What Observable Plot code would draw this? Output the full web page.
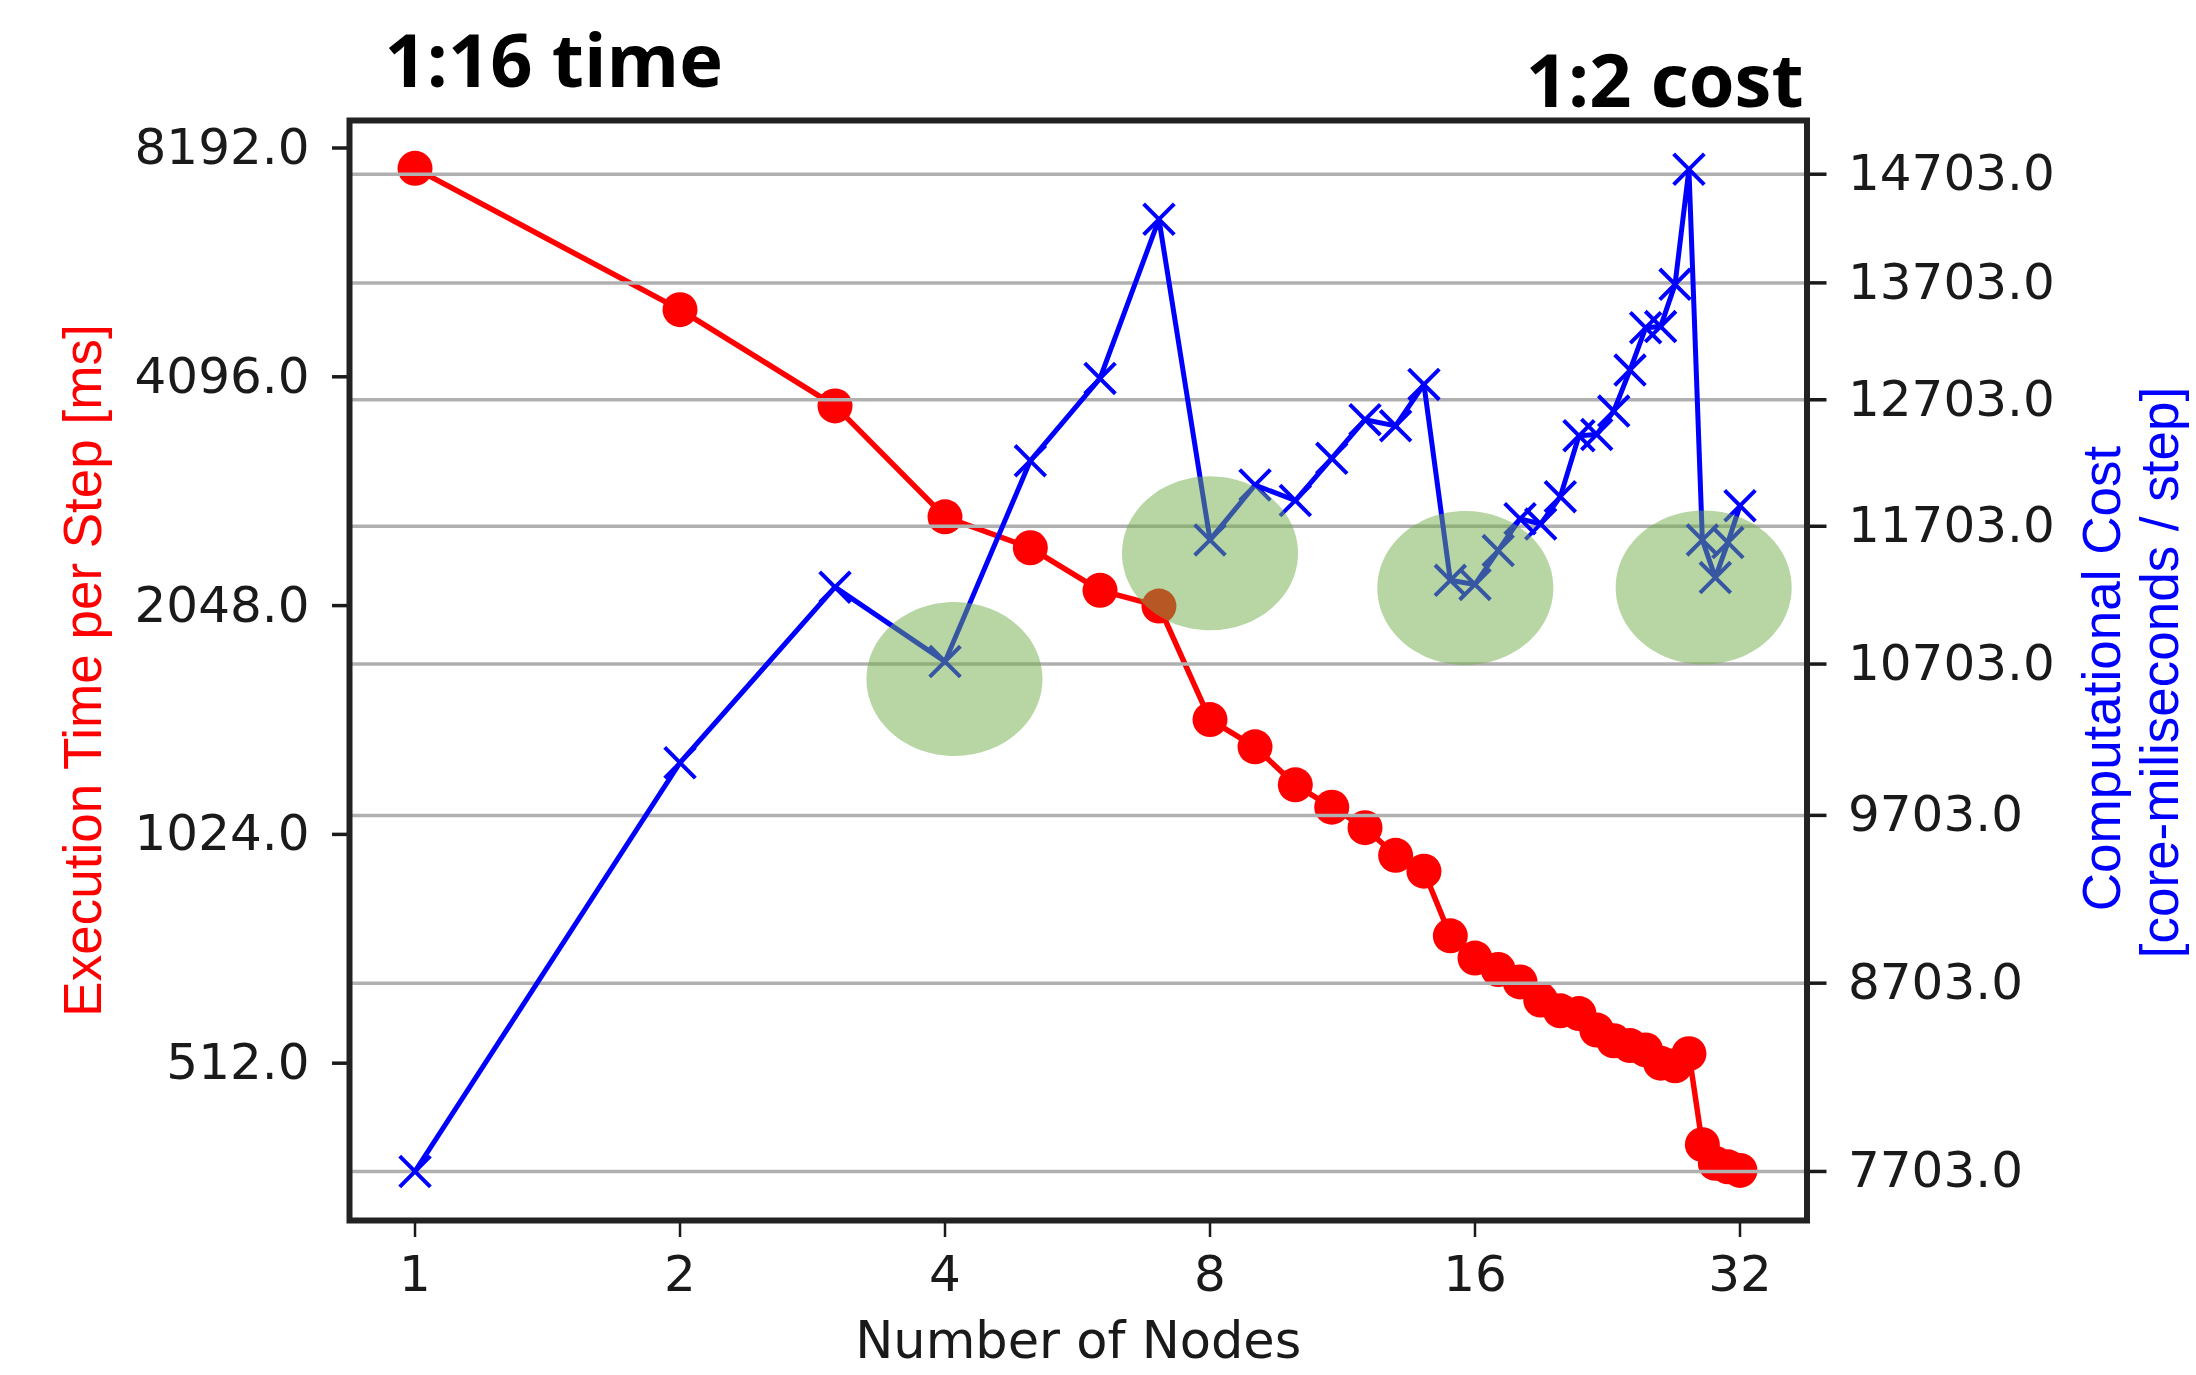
<!DOCTYPE html>
<html>
<head>
<meta charset="utf-8">
<script src="https://cdn.jsdelivr.net/npm/d3@7"></script>
<script src="https://cdn.jsdelivr.net/npm/@observablehq/plot@0.6"></script>
<style>
  html, body { margin: 0; padding: 0; background: #ffffff; }
  #chart { position: relative; width: 2196px; height: 1375px; }
  #chart svg { position: absolute; left: 0; top: 0; }
</style>
</head>
<body>
<div id="chart"></div>
<script>
// ---- data ----
const nodes = [1, 2, 3, 4, 5, 6, 7, 8, 9, 10, 11, 12, 13, 14, 15, 16,
               17, 18, 19, 20, 21, 22, 23, 24, 25, 26, 27, 28, 29, 30, 31, 32];
const execTime = [7703, 5020, 3750, 2680, 2440, 2145, 2045, 1450, 1335, 1190, 1112, 1045, 961, 916, 753, 704,
                  680, 655, 620, 600, 595, 566, 548, 540, 533, 512, 508, 527, 400, 378, 374, 370];
const compCost = [7703, 10040, 11250, 10720, 12210, 12880, 14280, 11600, 12020, 11900, 12230, 12540, 12490, 12830, 11300, 11270,
                  11520, 11760, 11720, 11930, 12410, 12420, 12610, 12950, 13310, 13320, 13690, 14750, 11600, 11320, 11580, 11860];
const xTicks = [1, 2, 4, 8, 16, 32];
const timeTicks = [512, 1024, 2048, 4096, 8192];
const costTicks = [7703, 8703, 9703, 10703, 11703, 12703, 13703, 14703];
// highlighted regions (centre in nodes / cost)
const highlightNodes = [4.1, 8.0, 15.6, 29.1];
const highlightCost = [10600, 11500, 11244, 11248];

const rows = nodes.map((n, i) => ({n, time: execTime[i], cost: compCost[i]}));
const highlights = highlightNodes.map((n, i) => ({n, cost: highlightCost[i]}));

// ---- layout ----
const W = 2196, H = 1375;
const fLeft = 349, fRight = 1806.5, fTop = 120, fBottom = 1220;
const common = {
  width: W, height: H,
  marginLeft: fLeft, marginRight: W - fRight, marginTop: fTop, marginBottom: H - fBottom,
  style: {background: "transparent", fontFamily: "'DejaVu Sans', sans-serif", fontSize: "50px", color: "#1a1a1a"},
  x: {type: "log", base: 2, domain: [0.8425, 38.13]}
};

// ellipse symbol for the highlight marks
const ellipse = {
  draw(ctx, size) {
    const ry = Math.sqrt(size / Math.PI), rx = ry * 88 / 77, k = 0.5522847498;
    ctx.moveTo(rx, 0);
    ctx.bezierCurveTo(rx, ry * k, rx * k, ry, 0, ry);
    ctx.bezierCurveTo(-rx * k, ry, -rx, ry * k, -rx, 0);
    ctx.bezierCurveTo(-rx, -ry * k, -rx * k, -ry, 0, -ry);
    ctx.bezierCurveTo(rx * k, -ry, rx, -ry * k, rx, 0);
    ctx.closePath();
  }
};

const labelFont = "'Liberation Sans', Arial, sans-serif";

// bottom layer: execution time (left axis), x axis
const p1 = Plot.plot({
  ...common,
  y: {type: "log", base: 2, domain: [317.9, 8904]},
  marks: [
    Plot.axisX({ticks: xTicks, tickSize: 17, tickPadding: 18, tickFormat: d => String(d), strokeWidth: 2.5, label: null}),
    Plot.axisY({ticks: timeTicks, anchor: "left", tickSize: 17, tickPadding: 23, tickFormat: d => d.toFixed(1), strokeWidth: 3.5, label: null}),
    Plot.line(rows, {x: "n", y: "time", stroke: "#ff0000", strokeWidth: 5.5}),
    Plot.dot(rows, {x: "n", y: "time", r: 17.5, fill: "#ff0000"}),
    Plot.text(["Execution Time per Step [ms]"], {text: d => d, frameAnchor: "left", dx: 100 - fLeft, rotate: -90,
      textAnchor: "middle", lineAnchor: "bottom", fill: "#ff0000", fontFamily: labelFont, fontSize: 53}),
    Plot.text(["Number of Nodes"], {text: d => d, frameAnchor: "bottom", dy: 1357 - fBottom,
      textAnchor: "middle", lineAnchor: "bottom", fill: "#1a1a1a", fontSize: 51})
  ]
});

// top layer: cost (right axis), grid, highlights, frame, titles
const p2 = Plot.plot({
  ...common,
  x: {...common.x, axis: null},
  y: {type: "log", domain: [7462, 15224]},
  marks: [
    Plot.ruleY(costTicks, {stroke: "#b0b0b0", strokeWidth: 3.5}),
    Plot.line(rows, {x: "n", y: "cost", stroke: "#0000ff", strokeWidth: 5}),
    Plot.dot(rows, {x: "n", y: "cost", symbol: "times", r: 14, stroke: "#0000ff", strokeWidth: 4}),
    Plot.dot(highlights, {x: "n", y: "cost", r: 77, symbol: ellipse, fill: "#70ad47", fillOpacity: 0.5, stroke: "none"}),
    Plot.axisY({ticks: costTicks, anchor: "right", tickSize: 19, tickPadding: 22, tickFormat: d => d.toFixed(1), strokeWidth: 3.5, label: null}),
    Plot.frame({stroke: "#222222", strokeWidth: 6}),
    Plot.text(["Computational Cost"], {text: d => d, frameAnchor: "right", dx: 2119 - fRight, dy: 8, rotate: -90,
      textAnchor: "middle", lineAnchor: "bottom", fill: "#0000ff", fontFamily: labelFont, fontSize: 53}),
    Plot.text(["[core-miliseconds / step]"], {text: d => d, frameAnchor: "right", dx: 2177 - fRight, dy: 2, rotate: -90,
      textAnchor: "middle", lineAnchor: "bottom", fill: "#0000ff", fontFamily: labelFont, fontSize: 53}),
    Plot.text(["1:16 time"], {text: d => d, frameAnchor: "top-left", dx: 384 - fLeft, dy: 86 - fTop,
      textAnchor: "start", lineAnchor: "bottom", fill: "#000", fontFamily: "'Open Sans', sans-serif", fontWeight: "bold", fontSize: 74}),
    Plot.text(["1:2 cost"], {text: d => d, frameAnchor: "top-right", dx: 1803 - fRight, dy: 106 - fTop,
      textAnchor: "end", lineAnchor: "bottom", fill: "#000", fontFamily: "'Open Sans', sans-serif", fontWeight: "bold", fontSize: 74})
  ]
});

const chart = document.getElementById("chart");
chart.appendChild(p1);
chart.appendChild(p2);
</script>
</body>
</html>
